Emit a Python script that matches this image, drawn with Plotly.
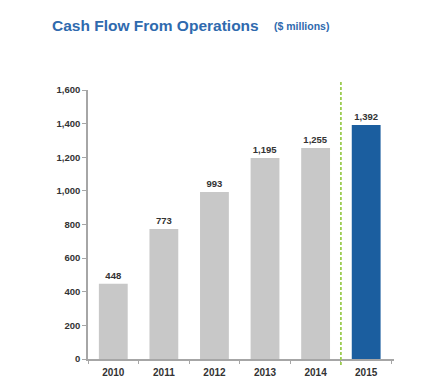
import plotly.graph_objects as go

years = ["2010", "2011", "2012", "2013", "2014", "2015"]
values = [448, 773, 993, 1195, 1255, 1392]
labels = ["448", "773", "993", "1,195", "1,255", "1,392"]
bar_colors = ["#c8c8c8"] * 5 + ["#1b5e9f"]
y_ticks = [0, 200, 400, 600, 800, 1000, 1200, 1400, 1600]
y_ticktext = ["0", "200", "400", "600", "800", "1,000", "1,200", "1,400", "1,600"]

L, R, T, B = 80, 44, 82, 37
W, H = 430, 388
pw, ph = W - L - R, H - T - B

fig = go.Figure()
fig.add_trace(go.Bar(
    x=years, y=values, marker=dict(color=bar_colors, line=dict(width=0)),
    text=["<b>%s</b>" % t for t in labels], textposition="outside", cliponaxis=False,
    textfont=dict(family="Liberation Sans, Arial", size=9.5, color="#333333"),
    hoverinfo="skip",
))

fig.update_layout(
    width=W, height=H,
    margin=dict(l=L, r=R, t=T, b=B),
    paper_bgcolor="white", plot_bgcolor="white",
    showlegend=False, bargap=0.43,
    font=dict(family="Liberation Sans, Arial"),
    xaxis=dict(
        type="category", range=[-0.5, 5.55], showgrid=False,
        tickvals=years, ticktext=["<b>%s</b>" % y for y in years],
        showline=True, linecolor="#a6a6a6", linewidth=1.5,
        ticks="outside", ticklen=3, tickcolor="#a6a6a6", tickson="boundaries",
        ticklabelstandoff=3,
        tickfont=dict(family="Liberation Sans, Arial", size=10, color="#333333"),
        fixedrange=True,
    ),
    yaxis=dict(
        range=[0, 1600], tickvals=y_ticks, ticktext=["<b>%s</b>" % t for t in y_ticktext],
        showgrid=False, zeroline=False, showline=True, linecolor="#a6a6a6", linewidth=1.5,
        ticks="outside", ticklen=4, tickcolor="#a6a6a6",
        tickfont=dict(family="Liberation Sans, Arial", size=9.5, color="#333333"),
        fixedrange=True,
    ),
    shapes=[dict(
        type="line", xref="x", yref="paper", x0=4.5, x1=4.5, y0=-0.022, y1=1.034,
        line=dict(color="#9ccc50", width=1.8, dash="3px,2px"),
    )],
    annotations=[
        dict(text="<b>Cash Flow From Operations</b>", xref="paper", yref="paper",
             x=(42 - L) / pw, y=(H - B - 17) / ph, xanchor="left", yanchor="middle",
             showarrow=False, font=dict(family="Liberation Sans, Arial", size=15.5, color="#2f6aae")),
        dict(text="<b>($ millions)</b>", xref="paper", yref="paper",
             x=(264 - L) / pw, y=(H - B - 18) / ph, xanchor="left", yanchor="middle",
             showarrow=False, font=dict(family="Liberation Sans, Arial", size=10.5, color="#2f6aae")),
    ],
)

fig.write_html("out.html")
